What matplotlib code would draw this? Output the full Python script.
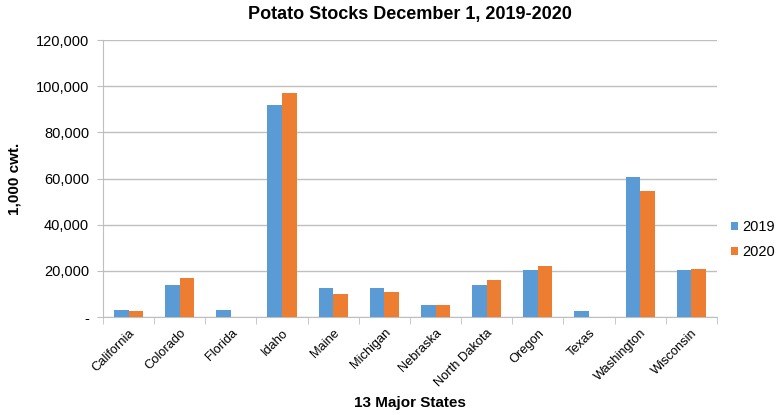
import matplotlib
matplotlib.use("Agg")
import matplotlib.pyplot as plt
import numpy as np
from matplotlib.ticker import FuncFormatter

states = ["California", "Colorado", "Florida", "Idaho", "Maine", "Michigan",
          "Nebraska", "North Dakota", "Oregon", "Texas", "Washington", "Wisconsin"]
stocks_2019 = [3000, 13800, 3000, 92000, 12500, 12500, 5000, 13800, 20200, 2600, 60800, 20300]
stocks_2020 = [2700, 16900, 0, 97000, 9900, 10900, 5000, 15900, 22200, 0, 54700, 20600]
series_labels = ["2019", "2020"]

plt.rcParams['font.family'] = ['Liberation Sans', 'DejaVu Sans']

fig = plt.figure(figsize=(7.77, 4.15), dpi=100)
ax = fig.add_axes([0.1326, 0.2361, 0.79, 0.6675])

x = np.arange(len(states))
w = 0.285
ax.bar(x - w/2, stocks_2019, width=w, color="#5B9BD5", label=series_labels[0], zorder=3)
ax.bar(x + w/2, stocks_2020, width=w, color="#ED7D31", label=series_labels[1], zorder=3)

ax.set_xlim(-0.5, len(states) - 0.5)
ax.set_ylim(0, 120000)
ax.set_yticks(np.arange(0, 120001, 20000))
ax.yaxis.set_major_formatter(FuncFormatter(lambda v, p: "-" if v == 0 else f"{int(v):,}"))
ax.grid(axis='y', color='#BFBFBF', linewidth=1, zorder=0)

ax.set_xticks(x)
ax.set_xticklabels(states, rotation=45, ha='right', rotation_mode='anchor', fontsize=9.3)
ax.set_xticks(np.arange(-0.5, len(states), 1), minor=True)
ax.tick_params(axis='x', which='major', length=0, pad=7)
ax.tick_params(axis='x', which='minor', length=5, color='#BFBFBF')
ax.tick_params(axis='y', length=4, color='#BFBFBF', labelsize=10.5, pad=6)

for s in ['top', 'right']:
    ax.spines[s].set_visible(False)
ax.spines['left'].set_color('#BFBFBF')
ax.spines['bottom'].set_color('#BFBFBF')

ax.set_title("Potato Stocks December 1, 2019-2020", fontsize=13, fontweight='bold', pad=15)
ax.set_ylabel("1,000 cwt.", fontsize=11, fontweight='bold', labelpad=10)
ax.set_xlabel("13 Major States", fontsize=11, fontweight='bold', labelpad=5)

ax.legend(loc='center left', bbox_to_anchor=(731/777, 1 - 239.7/415), bbox_transform=fig.transFigure,
          frameon=False, fontsize=10.5, borderaxespad=0, borderpad=0,
          handlelength=0.5, handleheight=0.5, handletextpad=0.3, labelspacing=0.75)

fig.savefig("out.png", dpi=100)
